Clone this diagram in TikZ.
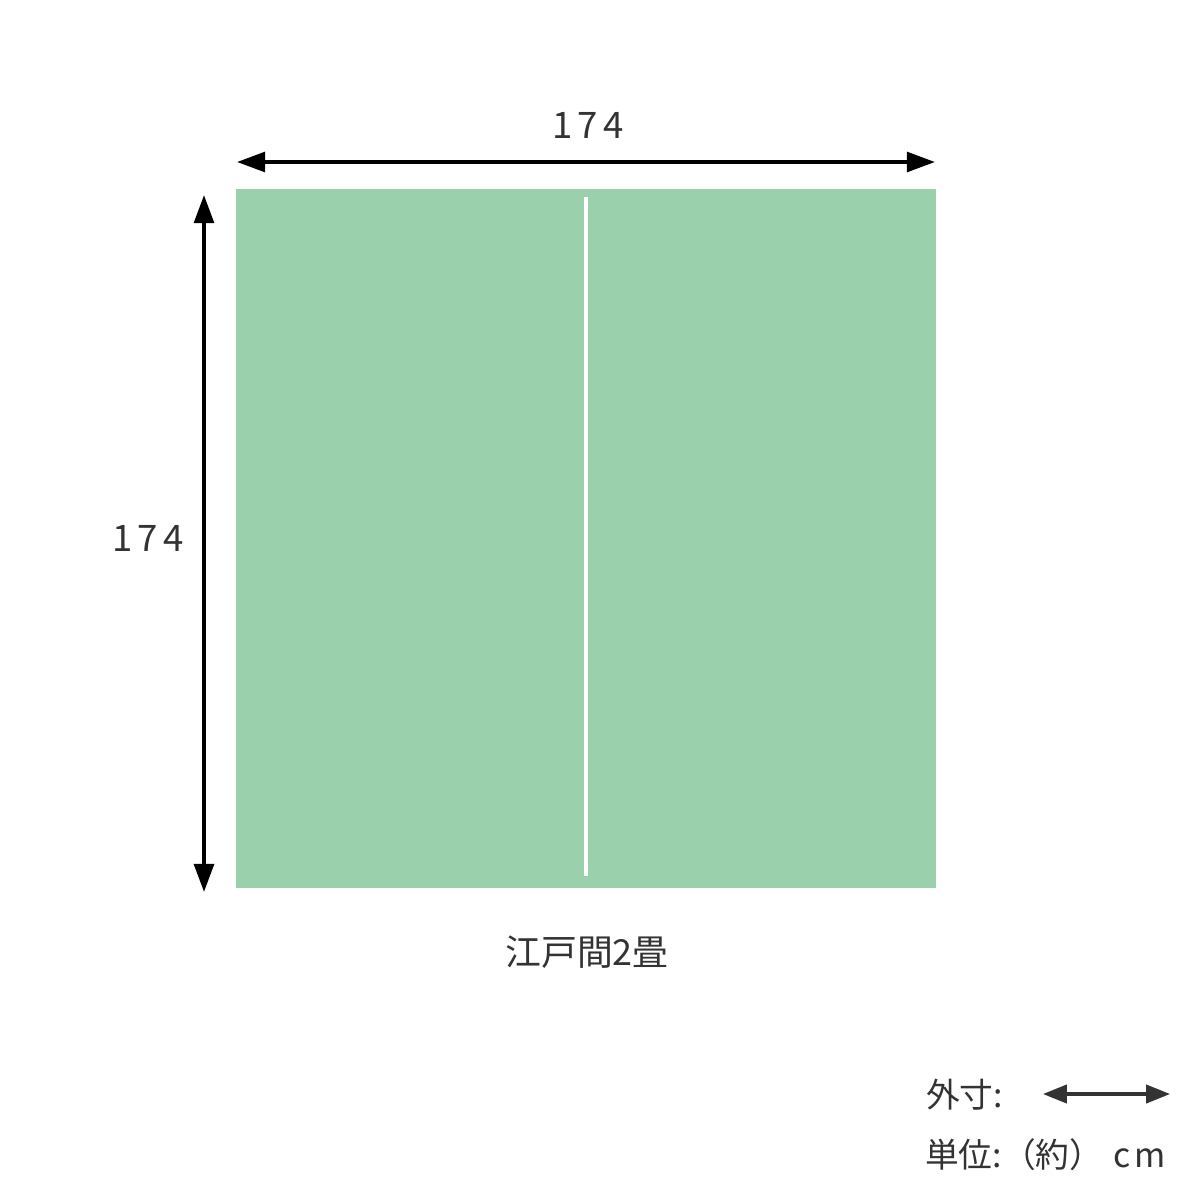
\documentclass[tikz,border=0pt]{standalone}
\usepackage{fontspec}
\setmainfont{Noto Sans CJK JP}
\usetikzlibrary{arrows.meta}
\definecolor{tatami}{HTML}{9BD0AC}
\definecolor{ink}{HTML}{333333}
\begin{document}
\begin{tikzpicture}[x=0.05cm,y=-0.05cm,
  dimline/.style={line width=5.4pt,black,{Triangle[length=40pt,width=28pt]}-{Triangle[length=40pt,width=28pt]}},
  legline/.style={line width=4.6pt,ink,{Triangle[length=34pt,width=26pt]}-{Triangle[length=34pt,width=26pt]}},
  dimtext/.style={text=ink,font=\fontsize{52}{60}\selectfont,inner sep=0pt},
  cjktext/.style={text=ink,font=\fontsize{51}{60}\selectfont,inner sep=0pt},
  legtext/.style={text=ink,font=\fontsize{48}{56}\selectfont,inner sep=0pt}]
\useasboundingbox (0,0) rectangle (1200,1200);
\fill[white] (0,0) rectangle (1200,1200);
% mat
\fill[tatami] (236,189) rectangle (936,888);
\node[draw=none,minimum size=0pt,inner sep=0pt] (mat) at (586,538.5) {};
\coordinate (sepT) at (586,197);
\coordinate (sepB) at (586,876);
\draw[white,line width=5pt] (sepT) -- (sepB);
% dimension arrows
\coordinate (hL) at (237,162);
\coordinate (hR) at (935,162);
\draw[dimline] (hL) -- (hR);
\coordinate (vT) at (204,195);
\coordinate (vB) at (204,892);
\draw[dimline] (vT) -- (vB);
\node[dimtext] (wlab) at (588,125) {1\kern0.14em7\kern0.14em4};
\node[dimtext] (hlab) at (148,538) {1\kern0.14em7\kern0.14em4};
\node[cjktext] (name) at (587,952) {江戸間2畳};
% legend
\node[legtext,anchor=west] (leg1) at (926,1095) {外寸:};
\coordinate (lL) at (1043,1094);
\coordinate (lR) at (1170,1094);
\draw[legline] (lL) -- (lR);
\node[legtext,anchor=west] (leg2) at (925,1155) {単位:（約）\kern0.3em c\kern0.12em m};
\end{tikzpicture}
\end{document}
